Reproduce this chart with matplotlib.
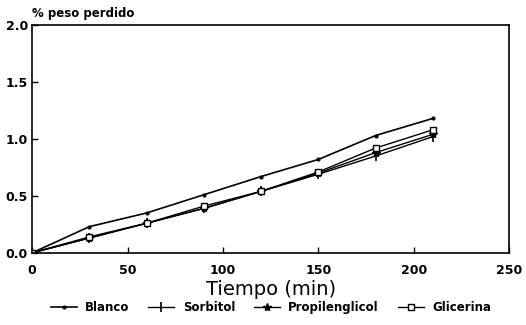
import matplotlib

matplotlib.use("Agg")
import matplotlib.pyplot as plt

OUT_PNG = "out.png"

tiempo = [0, 30, 60, 90, 120, 150, 180, 210]
blanco = [0.0, 0.23, 0.35, 0.51, 0.67, 0.82, 1.03, 1.18]
sorbitol = [0.0, 0.13, 0.26, 0.39, 0.54, 0.69, 0.85, 1.02]
propilenglicol = [0.0, 0.13, 0.26, 0.39, 0.54, 0.70, 0.88, 1.04]
glicerina = [0.0, 0.14, 0.26, 0.41, 0.54, 0.71, 0.92, 1.08]

x_ticks = [0, 50, 100, 150, 200, 250]
y_ticks = [0.0, 0.5, 1.0, 1.5, 2.0]
y_tick_labels = ["0.0", "0.5", "1.0", "1.5", "2.0"]


def draw_chart():
    fig = plt.figure(figsize=(5.26, 3.25), dpi=100)
    ax = fig.add_axes([0.061, 0.222, 0.907, 0.701])

    ax.plot(tiempo, blanco, color="black", lw=1.2, marker="o", ms=2, label="Blanco")
    ax.plot(tiempo, sorbitol, color="black", lw=1.0, marker="|", ms=7, mew=1.2, label="Sorbitol")
    ax.plot(tiempo, propilenglicol, color="black", lw=1.0, marker="*", ms=6, label="Propilenglicol")
    ax.plot(tiempo, glicerina, color="black", lw=1.0, marker="s", ms=5, mfc="white", mew=1.0,
            label="Glicerina")

    ax.set_xlim(0, 250)
    ax.set_ylim(0, 2.0)
    ax.set_xticks(x_ticks)
    ax.set_yticks(y_ticks, labels=y_tick_labels)
    ax.tick_params(direction="in", length=4, width=1, labelsize=9)
    for lab in ax.get_xticklabels() + ax.get_yticklabels():
        lab.set_fontweight("bold")
    ax.tick_params(axis="x", pad=8)
    ax.tick_params(axis="y", pad=3)
    for spine in ax.spines.values():
        spine.set_linewidth(1.2)

    ax.set_xlabel("Tiempo (min)", fontsize=14, labelpad=2)
    ax.text(0.0, 1.02, "% peso perdido", transform=ax.transAxes, fontsize=8.5,
            fontweight="bold", ha="left", va="bottom")

    fig.legend(loc="center", bbox_to_anchor=(0.515, 0.054), ncol=4, frameon=False,
               handlelength=2.2, columnspacing=1.6, handletextpad=0.7,
               prop={"weight": "bold", "size": 8.5})

    fig.savefig(OUT_PNG, dpi=100)


def main():
    draw_chart()


if __name__ == "__main__":
    main()
